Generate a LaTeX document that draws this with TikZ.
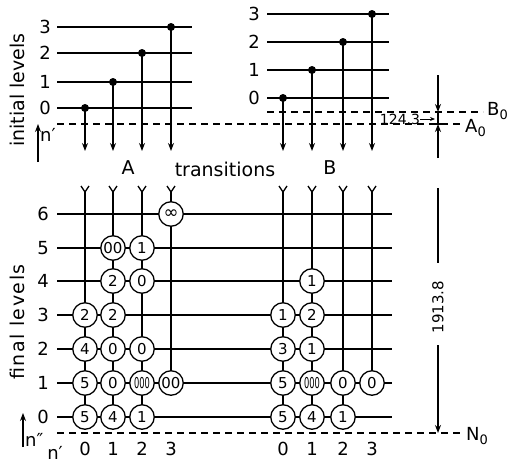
\documentclass[tikz,border=0pt]{standalone}
\usepackage{fontspec}
\setmainfont{DejaVu Sans}
\usetikzlibrary{arrows.meta}
\newcommand\myfs[1]{\fontsize{#1}{#1}\selectfont}
\tikzset{
  ln/.style={line width=1.3pt},
  dotn/.style={circle, fill=black, inner sep=0pt, minimum size=8pt},
  cc/.style={circle, draw, fill=white, line width=1.3pt, minimum size=24.5pt, inner sep=0pt, font=\myfs{15}},
  lvl/.style={inner sep=0pt, font=\myfs{18}},
  big/.style={inner sep=0pt, font=\myfs{19}},
  dsh/.style={line width=1.3pt, dash pattern=on 7pt off 5pt},
  arr/.style={line width=1.3pt, -{Stealth[length=8pt,width=6pt]}},
}
\begin{document}
\begin{tikzpicture}[x=1pt,y=-1pt]
\useasboundingbox (0,0) rectangle (509,463);
% ---------- top A ----------
\foreach \l/\y in {0/108,1/82,2/53,3/27}{
  \coordinate (tAL\l) at (57,\y); \coordinate (tAR\l) at (192,\y);
  \draw[ln] (tAL\l) -- (tAR\l);
  \node[lvl] (tAlab\l) at (45,\y) {\l};
}
\foreach \c/\x/\y in {0/85/108,1/113/82,2/142/53,3/171/27}{
  \node[dotn] (tAd\c) at (\x,\y) {};
  \coordinate (tAe\c) at (\x,151);
  \draw[arr] (tAd\c.center) -- (tAe\c);
}
% ---------- top B ----------
\foreach \l/\y in {0/98,1/70,2/42,3/14}{
  \coordinate (tBL\l) at (267,\y); \coordinate (tBR\l) at (389,\y);
  \draw[ln] (tBL\l) -- (tBR\l);
  \node[lvl] (tBlab\l) at (254,\y) {\l};
}
\foreach \c/\x/\y in {0/283/98,1/312/70,2/343/42,3/372/14}{
  \node[dotn] (tBd\c) at (\x,\y) {};
  \coordinate (tBe\c) at (\x,151);
  \draw[arr] (tBd\c.center) -- (tBe\c);
}
% ---------- dashed reference lines ----------
\coordinate (a0L) at (57,124); \coordinate (a0R) at (463,124);
\coordinate (b0L) at (267,112); \coordinate (b0R) at (483,112);
\coordinate (n0L) at (57,433); \coordinate (n0R) at (462,433);
\draw[dsh] (a0L) -- (a0R);
\draw[dsh] (b0L) -- (b0R);
\draw[dsh] (n0L) -- (n0R);
\node[lvl, anchor=west] (B0) at (487,111) {B\raisebox{-0.45ex}{\myfs{13}0}};
\node[lvl, anchor=west] (A0) at (465,128) {A\raisebox{-0.45ex}{\myfs{13}0}};
\node[lvl, anchor=west] (N0) at (466,436) {N\raisebox{-0.45ex}{\myfs{13}0}};
% ---------- right dimensions ----------
\coordinate (d1) at (438,75); \coordinate (d2) at (438,112);
\coordinate (d3) at (438,158); \coordinate (d4) at (438,124);
\draw[arr] (d1) -- (d2);
\draw[arr] (d3) -- (d4);
\draw[ln] (d2) -- (d4);
\draw[ln] (435,112) -- (441,112);
\draw[ln] (435,124) -- (441,124);
\node[inner sep=0pt, font=\myfs{14}] (t124) at (400,119) {124.3};
\coordinate (t124e) at (435,119);
\draw[line width=1pt, -{Stealth[length=5pt,width=4pt]}] (t124.east) -- (t124e);
\coordinate (d5) at (438,188); \coordinate (d6) at (438,263);
\coordinate (d7) at (438,345); \coordinate (d8) at (438,433);
\draw[ln] (d5) -- (d6);
\node[inner sep=0pt, font=\myfs{15}, rotate=90] (t1913) at (438,307) {1913.8};
\draw[arr] (d7) -- (d8);
% ---------- bottom grid ----------
\foreach \l/\y in {0/417,1/383,2/349,3/315,4/281,5/248,6/214}{
  \coordinate (bL\l) at (57,\y); \coordinate (bR\l) at (392,\y);
  \draw[ln] (bL\l) -- (bR\l);
  \node[lvl] (blab\l) at (43,\y) {\l};
}
% vertical lines with fork tops
\foreach \n/\x/\e in {a0/85/417,a1/113/417,a2/142/417,a3/171/383,b0/283/417,b1/312/417,b2/343/417,b3/372/383}{
  \coordinate (vt\n) at (\x,192);
  \coordinate (vl\n) at ({\x-4},186);
  \coordinate (vr\n) at ({\x+4},186);
  \coordinate (vb\n) at (\x,\e);
  \draw[ln] (vl\n) -- (vt\n) -- (vr\n);
  \draw[ln] (vt\n) -- (vb\n);
}
% circles
\foreach \n/\x/\y/\t in {
  a03/85/315/2, a02/85/349/4, a01/85/383/5, a00/85/417/5,
  a15/113/248/00, a14/113/281/2, a13/113/315/2, a12/113/349/0, a11/113/383/0, a10/113/417/4,
  a25/142/248/1, a24/142/281/0, a22/142/349/0, a20/142/417/1,
  a31/171/383/00,
  b03/283/315/1, b02/283/349/3, b01/283/383/5, b00/283/417/5,
  b14/312/281/1, b13/312/315/2, b12/312/349/1, b10/312/417/4,
  b21/343/383/0, b20/343/417/1,
  b31/372/383/0}{
  \node[cc] (c\n) at (\x,\y) {\t};
}
\node[cc] (ca21) at (142,383) {\scalebox{0.55}[1]{000}};
\node[cc] (cb11) at (312,383) {\scalebox{0.55}[1]{000}};
\node[cc, font=\myfs{18}] (ca36) at (171,214) {∞};
% ---------- labels ----------
\node[big] (lA) at (128,168) {A};
\node[big] (ltr) at (225,169) {transitions};
\node[big] (lB) at (330,168) {B};
\node[big, rotate=90] (linit) at (17,90) {initial levels};
\node[big, rotate=90] (lfin) at (17,322) {\addfontfeatures{LetterSpace=8}final levels};
% n' arrows
\coordinate (na1) at (38,162); \coordinate (na2) at (38,124);
\draw[arr] (na1) -- (na2);
\node[lvl, anchor=west] (np) at (40,135) {n′};
\coordinate (nb1) at (23,447); \coordinate (nb2) at (23,413);
\draw[arr] (nb1) -- (nb2);
\node[lvl, anchor=west] (npp) at (25,440) {n″};
\node[lvl] (npb) at (55,453) {n′};
\foreach \c/\x in {0/85,1/113,2/142,3/171}{ \node[lvl] (cA\c) at (\x,449) {\c}; }
\foreach \c/\x in {0/283,1/312,2/343,3/372}{ \node[lvl] (cB\c) at (\x,449) {\c}; }
\end{tikzpicture}
\end{document}
